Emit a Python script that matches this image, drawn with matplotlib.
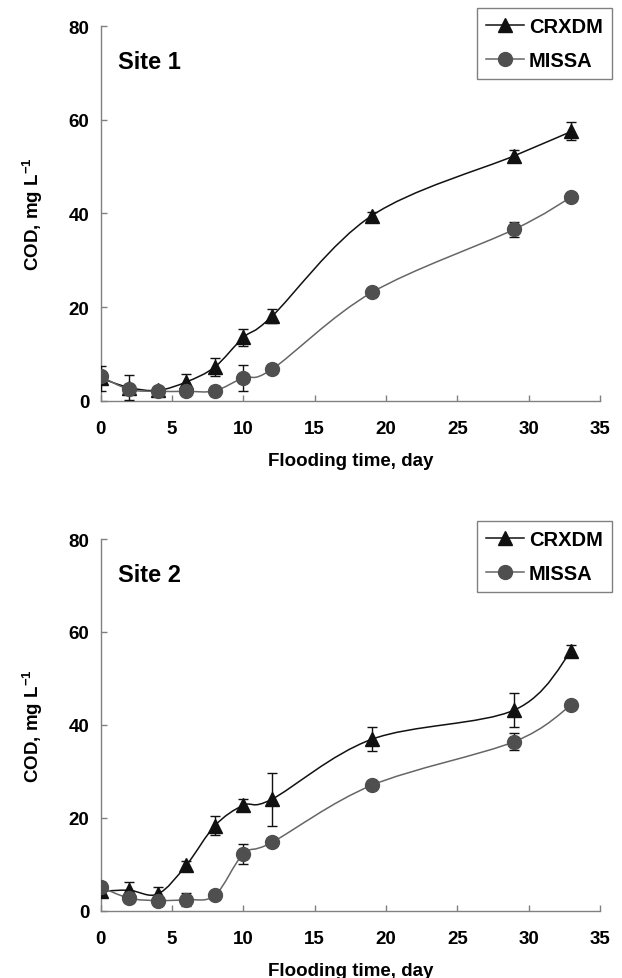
import matplotlib
matplotlib.use('Agg')
from matplotlib import pyplot as plt
from matplotlib.path import Path
from matplotlib.patches import PathPatch

# Data
days = [0, 2, 4, 6, 8, 10, 12, 19, 29, 33]

site1_crxdm = [4.8, 2.8, 2.2, 4.0, 7.2, 13.5, 18.0, 39.5, 52.3, 57.5]
site1_crxdm_err = [2.7, 2.7, 0.5, 1.7, 2.0, 1.8, 1.5, 0.8, 1.2, 1.9]
site1_missa = [5.2, 2.4, 2.0, 2.0, 2.1, 4.9, 6.7, 23.1, 36.6, 43.5]
site1_missa_err = [1.0, 0.5, 0.4, 0.3, 1.1, 2.8, 0.6, 0.5, 1.6, 0.8]

site2_crxdm = [4.2, 4.4, 3.6, 9.8, 18.3, 22.7, 24.0, 36.9, 43.2, 55.9]
site2_crxdm_err = [1.2, 1.8, 1.5, 1.0, 2.1, 1.3, 5.7, 2.6, 3.6, 1.3]
site2_missa = [5.1, 2.7, 2.2, 2.4, 3.3, 12.2, 14.7, 27.0, 36.4, 44.3]
site2_missa_err = [1.0, 0.5, 0.4, 1.4, 0.5, 2.1, 0.6, 0.8, 1.8, 0.8]

series_names = ['CRXDM', 'MISSA']
site_titles = ['Site 1', 'Site 2']
x_ticks = [0, 5, 10, 15, 20, 25, 30, 35]
y_ticks = [0, 20, 40, 60, 80]


def smooth_path(x, y):
    # Excel-like "smoothed line": cubic bezier through the points
    n = len(x)
    verts = [(x[0], y[0])]
    codes = [Path.MOVETO]
    for i in range(n - 1):
        x0, y0 = (x[i - 1], y[i - 1]) if i > 0 else (x[i], y[i])
        x3, y3 = (x[i + 2], y[i + 2]) if i + 2 < n else (x[i + 1], y[i + 1])
        c1 = (x[i] + (x[i + 1] - x0) / 6.0, y[i] + (y[i + 1] - y0) / 6.0)
        c2 = (x[i + 1] - (x3 - x[i]) / 6.0, y[i + 1] - (y3 - y[i]) / 6.0)
        verts += [c1, c2, (x[i + 1], y[i + 1])]
        codes += [Path.CURVE4, Path.CURVE4, Path.CURVE4]
    return Path(verts, codes)


def draw_site(ax, fig, title, crxdm, crxdm_err, missa, missa_err, legend_top):
    styles = [
        (crxdm, crxdm_err, '^', '#111111', '#111111'),
        (missa, missa_err, 'o', '#4f4f4f', '#666666'),
    ]
    handles = []
    for vals, errs, mk, mcol, lcol in styles:
        ax.add_patch(PathPatch(smooth_path(days, vals), facecolor='none',
                               edgecolor=lcol, linewidth=1.1, zorder=2))
        ax.errorbar(days, vals, yerr=errs, fmt='none', ecolor='#111111',
                    elinewidth=1.0, capsize=3.5, capthick=1.0, zorder=3)
        ax.plot(days, vals, linestyle='none', marker=mk, markersize=10,
                color=mcol, zorder=4)
        # legend handle: line + marker
        h, = ax.plot([], [], linestyle='-', color=lcol, linewidth=1.1,
                     marker=mk, markersize=10, markerfacecolor=mcol,
                     markeredgecolor=mcol)
        handles.append(h)

    ax.set_xlim(0, 35)
    ax.set_ylim(0, 80)
    ax.set_xticks(x_ticks)
    ax.set_yticks(y_ticks)

    for s in ['top', 'right']:
        ax.spines[s].set_visible(False)
    for s in ['left', 'bottom']:
        ax.spines[s].set_color('#808080')
        ax.spines[s].set_linewidth(1.0)
    ax.tick_params(axis='both', direction='in', length=4, width=1,
                   color='#808080', labelsize=13.5)
    ax.tick_params(axis='x', pad=14)
    ax.tick_params(axis='y', pad=8)
    for lab in ax.get_xticklabels() + ax.get_yticklabels():
        lab.set_fontweight('bold')

    ax.set_xlabel('Flooding time, day', fontsize=13.5, fontweight='bold',
                  labelpad=11)
    ax.set_ylabel('COD, mg L$^{-1}$', fontsize=13.5, fontweight='bold')
    ax.yaxis.set_label_coords(-0.112, 0.5)

    ax.text(0.035, 0.905, title, transform=ax.transAxes, fontsize=17,
            fontweight='bold', va='center', ha='left')

    leg = ax.legend(handles, series_names, loc='upper right',
                    bbox_to_anchor=(612 / 622, legend_top),
                    bbox_transform=fig.transFigure, borderaxespad=0,
                    prop={'size': 14.5, 'weight': 'bold'},
                    handlelength=1.9, handletextpad=0.25, labelspacing=0.75,
                    borderpad=0.45, fancybox=False, framealpha=1)
    leg.get_frame().set_edgecolor('#808080')
    leg.get_frame().set_linewidth(1.0)


def main():
    plt.rcParams['font.family'] = ['Liberation Sans', 'DejaVu Sans']
    plt.rcParams['mathtext.fontset'] = 'custom'
    plt.rcParams['mathtext.rm'] = 'Liberation Sans:bold'
    plt.rcParams['mathtext.it'] = 'Liberation Sans:bold'
    plt.rcParams['mathtext.bf'] = 'Liberation Sans:bold'

    fig = plt.figure(figsize=(6.22, 9.79), dpi=100)
    ax1 = fig.add_axes([0.1619, 0.5897, 0.8027, 0.3827])
    ax2 = fig.add_axes([0.1619, 0.0687, 0.8027, 0.3797])

    draw_site(ax1, fig, site_titles[0], site1_crxdm, site1_crxdm_err,
              site1_missa, site1_missa_err, 1 - 9 / 979)
    draw_site(ax2, fig, site_titles[1], site2_crxdm, site2_crxdm_err,
              site2_missa, site2_missa_err, 1 - 522 / 979)

    fig.savefig('out.png', dpi=100)


if __name__ == '__main__':
    main()
